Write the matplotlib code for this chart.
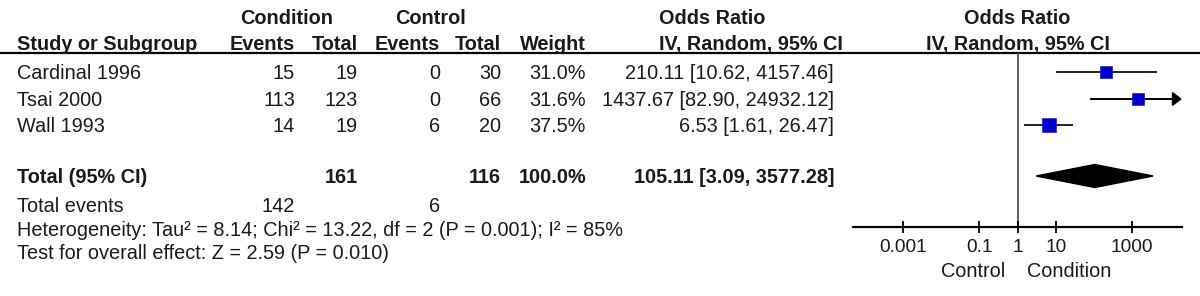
import matplotlib.pyplot as plt
import numpy as np
from matplotlib.patches import Polygon
from matplotlib.transforms import blended_transform_factory, offset_copy

plt.rcParams['font.family'] = ['Liberation Sans', 'DejaVu Sans']

# study data
studies = ['Cardinal 1996', 'Tsai 2000', 'Wall 1993']
cond_events = [15, 113, 14]
cond_total = [19, 123, 19]
ctrl_events = [0, 0, 6]
ctrl_total = [30, 66, 20]
weights = [31.0, 31.6, 37.5]
odds_ratio = [210.11, 1437.67, 6.53]
ci_low = [10.62, 82.90, 1.61]
ci_high = [4157.46, 24932.12, 26.47]

# pooled result
total_weight = 100.0
pooled_or = 105.11
pooled_low = 3.09
pooled_high = 3577.28
heterogeneity = 'Heterogeneity: Tau² = 8.14; Chi² = 13.22, df = 2 (P = 0.001); I² = 85%'
overall_effect = 'Test for overall effect: Z = 2.59 (P = 0.010)'

tick_values = [0.001, 0.1, 1, 10, 1000]
tick_labels = ['0.001', '0.1', '1', '10', '1000']

W, H = 1200, 296
TXT = '#1a1a1a'
FS = 14.3

fig = plt.figure(figsize=(W / 100, H / 100), dpi=100)

# table layer in pixel units
tab = fig.add_axes([0, 0, 1, 1])
tab.set_xlim(0, W)
tab.set_ylim(H, 0)
tab.axis('off')

# layout (pixel rows / columns)
base = 7  # cap-centre -> baseline
hdr1_y, hdr2_y, line_y = 17, 43, 53
row_y = [72, 99, 125]
total_y, events_y, het_y, test_y = 176, 205, 229, 252
col_x = [295, 358, 440, 501, 586]
or_x = 834
left_x = 17


def put(x, y, s, ha='right', bold=False, **kw):
    tab.text(x, y + base, s, ha=ha, va='baseline', fontsize=FS, color=TXT,
             fontweight='bold' if bold else 'normal', **kw)


# headers
put(287, hdr1_y, 'Condition', ha='center', bold=True)
put(431, hdr1_y, 'Control', ha='center', bold=True)
put(659, hdr1_y, 'Odds Ratio', ha='left', bold=True)
put(left_x, hdr2_y, 'Study or Subgroup', ha='left', bold=True)
for x, s in zip(col_x, ['Events', 'Total', 'Events', 'Total', 'Weight']):
    put(x, hdr2_y, s, bold=True)
put(659, hdr2_y, 'IV, Random, 95% CI', ha='left', bold=True)
tab.plot([0, W], [line_y, line_y], color='black', lw=1.6)

# study rows
for i, name in enumerate(studies):
    y = row_y[i]
    put(left_x, y, name, ha='left')
    put(col_x[0], y, str(cond_events[i]))
    put(col_x[1], y, str(cond_total[i]))
    put(col_x[2], y, str(ctrl_events[i]))
    put(col_x[3], y, str(ctrl_total[i]))
    put(col_x[4], y, f'{weights[i]:.1f}%')
    put(or_x, y, f'{odds_ratio[i]:.2f} [{ci_low[i]:.2f}, {ci_high[i]:.2f}]')

# totals
put(left_x, total_y, 'Total (95% CI)', ha='left', bold=True)
put(col_x[1], total_y, str(sum(cond_total)), bold=True)
put(col_x[3], total_y, str(sum(ctrl_total)), bold=True)
put(col_x[4], total_y, f'{total_weight:.1f}%', bold=True)
put(or_x, total_y, f'{pooled_or:.2f} [{pooled_low:.2f}, {pooled_high:.2f}]', bold=True)
put(left_x, events_y, 'Total events', ha='left')
put(col_x[0], events_y, str(sum(cond_events)))
put(col_x[2], events_y, str(sum(ctrl_events)))
put(left_x, het_y, heterogeneity, ha='left')
put(left_x, test_y, overall_effect, ha='left')

# forest plot
ax_l, ax_r = 853, 1182
ax = fig.add_axes([ax_l / W, 1 - 227 / H, (ax_r - ax_l) / W, (227 - line_y) / H])
ax.set_xscale('log')
xmin, xmax = 10 ** -4.31, 10 ** 4.31
ax.set_xlim(xmin, xmax)
ax.set_ylim(227, line_y)
ax.patch.set_alpha(0)
for s in ['top', 'right', 'left']:
    ax.spines[s].set_visible(False)
ax.spines['bottom'].set_linewidth(1.6)
ax.set_yticks([])
ax.set_xticks(tick_values)
ax.set_xticklabels(tick_labels)
ax.minorticks_off()
ax.tick_params(axis='x', direction='inout', length=8, width=1.3, pad=5,
               labelsize=13.7, labelcolor=TXT)
ax.axvline(1, color='#444444', lw=1.2, zorder=1)

wmax = max(weights)
for i in range(len(studies)):
    y = row_y[i]
    if ci_high[i] > xmax:
        ax.annotate('', xy=(xmax, y), xytext=(ci_low[i], y),
                    arrowprops=dict(arrowstyle='-|>,head_length=0.55,head_width=0.42',
                                    color='black', lw=1.4, shrinkA=0, shrinkB=0))
    else:
        ax.plot([ci_low[i], ci_high[i]], [y, y], color='#222222', lw=1.4, zorder=2)
    ax.plot(odds_ratio[i], y, 's', ms=9.6 * np.sqrt(weights[i] / wmax),
            color='#0000c8', mec='#2020d0', mew=0.5, zorder=3)

d = 11.5
ax.add_patch(Polygon([(pooled_low, total_y), (pooled_or, total_y - d),
                      (pooled_high, total_y), (pooled_or, total_y + d)],
                     closed=True, color='black', zorder=3))

# favours labels and right-hand header, anchored at OR = 1
tr = blended_transform_factory(ax.transData, tab.transData)
put(1, 270, 'Control', ha='right', transform=offset_copy(tr, fig=fig, x=-12, y=0, units='dots'))
put(1, 270, 'Condition', ha='left', transform=offset_copy(tr, fig=fig, x=10, y=0, units='dots'))
put(1, hdr1_y, 'Odds Ratio', ha='center', bold=True, transform=tr)
put(1, hdr2_y, 'IV, Random, 95% CI', ha='center', bold=True, transform=tr)

fig.savefig('out.png', dpi=100)
